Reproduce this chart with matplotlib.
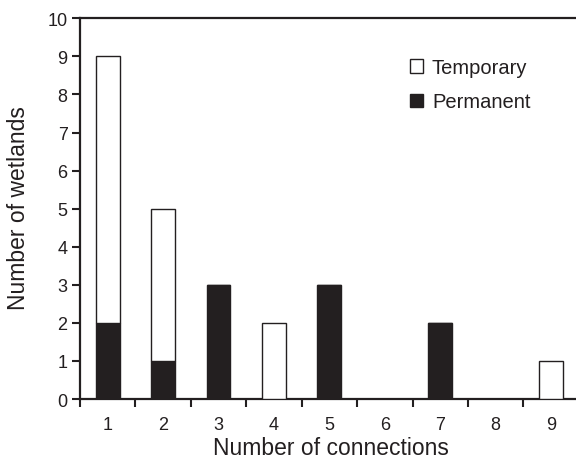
import matplotlib
matplotlib.use("Agg")
import matplotlib.pyplot as plt
from matplotlib.ticker import FixedLocator

plt.rcParams['font.family'] = ['Liberation Sans', 'DejaVu Sans']

connections = [1, 2, 3, 4, 5, 6, 7, 8, 9]
permanent = [2, 1, 3, 0, 3, 0, 2, 0, 0]
temporary = [7, 4, 0, 2, 0, 0, 0, 0, 1]
yticks = list(range(0, 11))

ink = '#231f20'

fig = plt.figure(figsize=(5.76, 4.64), dpi=100)
ax = fig.add_axes([0.1389, 0.1379, 0.8611, 0.8205])

width = 0.43
ax.bar(connections, permanent, width=width, color=ink, edgecolor=ink,
       linewidth=1.0, label='Permanent', zorder=3)
ax.bar(connections, temporary, width=width, bottom=permanent, color='white',
       edgecolor=ink, linewidth=1.0, label='Temporary', zorder=3)

ax.set_xlim(0.5, 9.45)
ax.set_ylim(0, 10)

ax.set_yticks(yticks)
ax.set_xticks(connections)
ax.xaxis.set_minor_locator(FixedLocator([x + 0.5 for x in [0] + connections]))

ax.tick_params(axis='y', which='major', length=6, width=1.5, direction='out',
               labelsize=13, pad=3, colors=ink)
ax.tick_params(axis='x', which='major', length=0, labelsize=13, pad=12,
               colors=ink)
ax.tick_params(axis='x', which='minor', length=6, width=1.5, direction='out',
               colors=ink)

for s in ['left', 'bottom', 'top']:
    ax.spines[s].set_linewidth(1.6)
    ax.spines[s].set_color(ink)
ax.spines['right'].set_visible(False)

ax.set_xlabel('Number of connections', fontsize=16.5, color=ink)
ax.set_ylabel('Number of wetlands', fontsize=16.5, color=ink)
ax.xaxis.set_label_coords(0.506, -0.097)
ax.yaxis.set_label_coords(-0.1, 0.505)

handles, labels = ax.get_legend_handles_labels()
leg = ax.legend(handles[::-1], labels[::-1], loc='upper left',
                bbox_to_anchor=(0.665, 0.895), frameon=False, fontsize=14.5,
                handlelength=0.65, handleheight=0.65, handletextpad=0.45,
                labelspacing=0.75, borderpad=0, borderaxespad=0)
for t in leg.get_texts():
    t.set_color(ink)

fig.savefig('out.png', dpi=100)
